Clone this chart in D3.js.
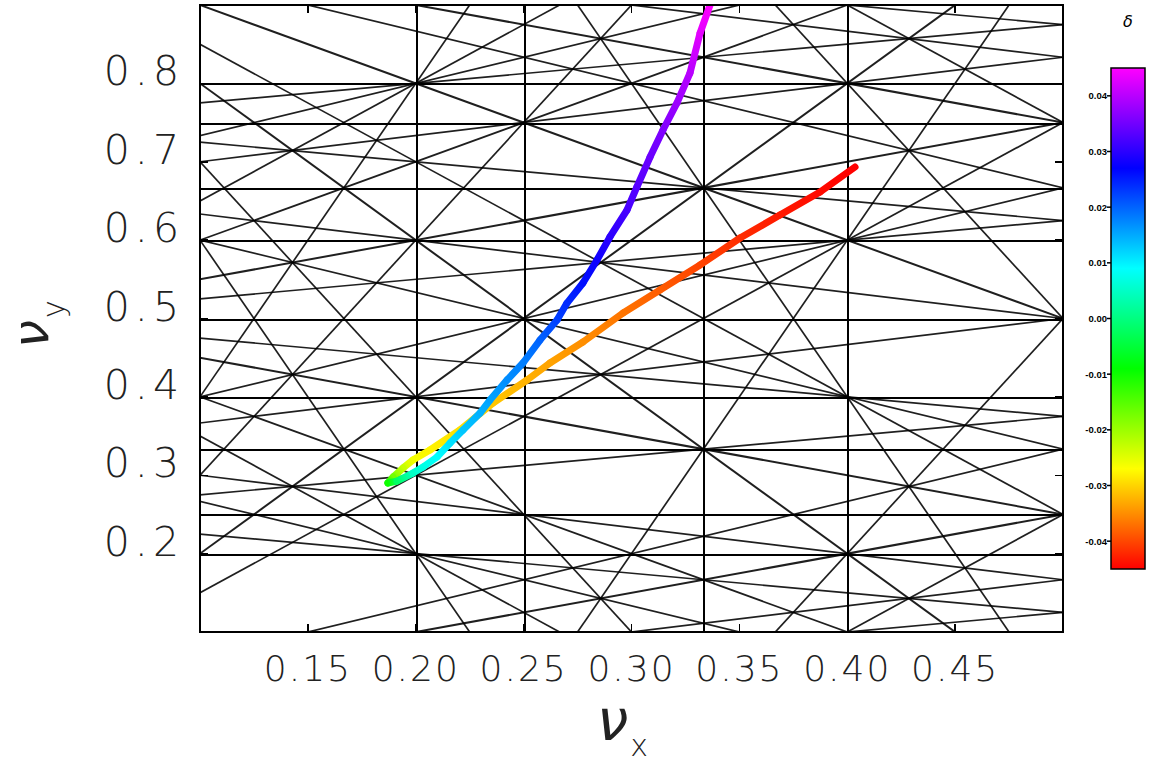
<!DOCTYPE html>
<html>
<head>
<meta charset="utf-8">
<script src="https://cdn.jsdelivr.net/npm/d3@7"></script>
<style>
  html, body { margin: 0; padding: 0; background: #fff; }
  svg { display: block; }
</style>
</head>
<body>
<svg id="chart" width="1155" height="762"></svg>
<script>
// ---- tick values and labels ----
const xTicks = [0.15, 0.20, 0.25, 0.30, 0.35, 0.40, 0.45];
const xTickLabels = ["0.15", "0.20", "0.25", "0.30", "0.35", "0.40", "0.45"];
const yTicks = [0.2, 0.3, 0.4, 0.5, 0.6, 0.7, 0.8];
const yTickLabels = ["0.2", "0.3", "0.4", "0.5", "0.6", "0.7", "0.8"];
const colorTicks = [0.04, 0.03, 0.02, 0.01, 0.00, -0.01, -0.02, -0.03, -0.04];
const colorTickLabels = ["0.04", "0.03", "0.02", "0.01", "0.00", "-0.01", "-0.02", "-0.03", "-0.04"];

// ---- tune footprint: (nu_x, nu_y) versus momentum deviation delta ----
const deltaValues = [-0.0450, -0.0443, -0.0432, -0.0418, -0.0403, -0.0385, -0.0368, -0.0350, -0.0335, -0.0325,
                     -0.0310, -0.0293, -0.0278, -0.0262, -0.0230, -0.0170, -0.0100, -0.0020, 0.0050, 0.0070,
                      0.0090, 0.0110, 0.0130, 0.0145, 0.0155, 0.0170, 0.0180, 0.0200, 0.0225, 0.0240,
                      0.0260, 0.0280, 0.0300, 0.0320, 0.0330, 0.0345, 0.0360, 0.0380, 0.0400, 0.0430, 0.0450];
const nuX = [0.4036, 0.3874, 0.3688, 0.3503, 0.3318, 0.3132, 0.2961, 0.2775, 0.2622, 0.2516,
             0.2358, 0.2205, 0.2066, 0.1987, 0.1941, 0.1895, 0.1871, 0.1913, 0.1987, 0.2034,
             0.2099, 0.2159, 0.2219, 0.2298, 0.2344, 0.2423, 0.2497, 0.2576, 0.2655, 0.2701,
             0.2775, 0.2840, 0.2900, 0.2979, 0.3025, 0.3086, 0.3146, 0.3211, 0.3271, 0.3318, 0.3364];
const nuY = [0.6933, 0.6614, 0.6320, 0.6027, 0.5683, 0.5363, 0.5070, 0.4700, 0.4432, 0.4215,
             0.3921, 0.3577, 0.3322, 0.3194, 0.3092, 0.2977, 0.2901, 0.2926, 0.3028, 0.3105,
             0.3233, 0.3411, 0.3577, 0.3794, 0.3960, 0.4215, 0.4432, 0.4725, 0.4980, 0.5197,
             0.5453, 0.5746, 0.6040, 0.6384, 0.6678, 0.7060, 0.7405, 0.7750, 0.8132, 0.8643, 0.9000];

// ---- resonance lines m*nu_x + n*nu_y = p ----
const maxResonanceOrder = 5;
const skippedResonances = [[1, -1, 0]];   // linear difference coupling line is not drawn

const xDomain = [0.1, 0.5];
const yDomain = [0.1, 0.9];
const deltaDomain = [-0.045, 0.045];

const svg = d3.select("#chart");
const plot = { left: 200, right: 1063, top: 5, bottom: 632 };

const x = d3.scaleLinear().domain(xDomain).range([plot.left, plot.right]);
const y = d3.scaleLinear().domain(yDomain).range([plot.bottom, plot.top]);

// rainbow: red (low delta) through yellow, green, cyan, blue to magenta (high delta)
const hueScale = d3.scaleLinear().domain(deltaDomain).range([0, 300]).clamp(true);
const colorOf = d => d3.hsl(hueScale(d), 1, 0.5).formatHex();

const defs = svg.append("defs");
defs.append("clipPath").attr("id", "plotClip")
  .append("rect")
  .attr("x", plot.left).attr("y", plot.top)
  .attr("width", plot.right - plot.left).attr("height", plot.bottom - plot.top);

// ---- build the resonance set ----
function gcd(a, b) { a = Math.abs(a); b = Math.abs(b); while (b) { [a, b] = [b, a % b]; } return a; }
const skipKeys = new Set(skippedResonances.map(r => r.join(",")));
const resonances = [];
const seen = new Set();
for (let m = 0; m <= maxResonanceOrder; m++) {
  for (let n = -maxResonanceOrder; n <= maxResonanceOrder; n++) {
    if (Math.abs(m) + Math.abs(n) > maxResonanceOrder) continue;
    if (m === 0 && n <= 0) continue;
    const corners = [[xDomain[0], yDomain[0]], [xDomain[0], yDomain[1]], [xDomain[1], yDomain[0]], [xDomain[1], yDomain[1]]]
      .map(([a, b]) => m * a + n * b);
    const lo = Math.ceil(Math.min(...corners) - 1e-9);
    const hi = Math.floor(Math.max(...corners) + 1e-9);
    for (let p = lo; p <= hi; p++) {
      const g = gcd(gcd(m, n), p) || gcd(m, n);
      const key = [m / g, n / g, p / g].join(",");
      if (seen.has(key) || skipKeys.has(key)) continue;
      seen.add(key);
      resonances.push({ m: m / g, n: n / g, p: p / g });
    }
  }
}

function endpoints(r) {
  if (r.n === 0) { const v = r.p / r.m; return [[v, yDomain[0] - 0.1], [v, yDomain[1] + 0.1]]; }
  if (r.m === 0) { const v = r.p / r.n; return [[xDomain[0] - 0.1, v], [xDomain[1] + 0.1, v]]; }
  const xa = xDomain[0] - 0.1, xb = xDomain[1] + 0.1;
  return [[xa, (r.p - r.m * xa) / r.n], [xb, (r.p - r.m * xb) / r.n]];
}

const lineLayer = svg.append("g").attr("clip-path", "url(#plotClip)");
const diag = resonances.filter(r => r.m !== 0 && r.n !== 0);
const straight = resonances.filter(r => r.m === 0 || r.n === 0);

lineLayer.selectAll("line.diag").data(diag).join("line")
  .attr("class", "diag")
  .attr("x1", r => x(endpoints(r)[0][0])).attr("y1", r => y(endpoints(r)[0][1]))
  .attr("x2", r => x(endpoints(r)[1][0])).attr("y2", r => y(endpoints(r)[1][1]))
  .attr("stroke", "#000")
  .attr("stroke-opacity", 0.88)
  .attr("stroke-width", r => (Math.abs(r.m) + Math.abs(r.n) <= 3 ? 2.0 : 1.7));

lineLayer.selectAll("line.straight").data(straight).join("line")
  .attr("class", "straight")
  .attr("x1", r => Math.round(x(endpoints(r)[0][0])) + 0.5).attr("y1", r => Math.round(y(endpoints(r)[0][1])) + 0.5)
  .attr("x2", r => Math.round(x(endpoints(r)[1][0])) + 0.5).attr("y2", r => Math.round(y(endpoints(r)[1][1])) + 0.5)
  .attr("stroke", "#000")
  .attr("stroke-width", 2)
  .attr("shape-rendering", "crispEdges");

// ---- tune curve coloured by delta ----
const pts = deltaValues.map((d, i) => ({ d, px: x(nuX[i]), py: y(nuY[i]) }));
const segs = d3.pairs(pts).map(([a, b], i) => ({ a, b, id: "seg" + i }));
segs.forEach(s => {
  const g = defs.append("linearGradient").attr("id", s.id)
    .attr("gradientUnits", "userSpaceOnUse")
    .attr("x1", s.a.px).attr("y1", s.a.py).attr("x2", s.b.px).attr("y2", s.b.py);
  g.append("stop").attr("offset", 0).attr("stop-color", colorOf(s.a.d));
  g.append("stop").attr("offset", 1).attr("stop-color", colorOf(s.b.d));
});
const curveLayer = svg.append("g").attr("clip-path", "url(#plotClip)");
curveLayer.selectAll("line").data(segs).join("line")
  .attr("x1", s => s.a.px).attr("y1", s => s.a.py)
  .attr("x2", s => s.b.px).attr("y2", s => s.b.py)
  .attr("stroke", s => `url(#${s.id})`)
  .attr("stroke-width", 7)
  .attr("stroke-linecap", "round");

// ---- frame and ticks ----
svg.append("rect")
  .attr("x", plot.left).attr("y", plot.top)
  .attr("width", plot.right - plot.left).attr("height", plot.bottom - plot.top)
  .attr("fill", "none").attr("stroke", "#000").attr("stroke-width", 2)
  .attr("shape-rendering", "crispEdges");

const tickLen = 8;
const tickG = svg.append("g").attr("stroke", "#000").attr("stroke-width", 1.5).attr("shape-rendering", "crispEdges");
xTicks.forEach(v => {
  tickG.append("line").attr("x1", x(v)).attr("x2", x(v)).attr("y1", plot.bottom).attr("y2", plot.bottom - tickLen);
  tickG.append("line").attr("x1", x(v)).attr("x2", x(v)).attr("y1", plot.top).attr("y2", plot.top + tickLen);
});
yTicks.forEach(v => {
  tickG.append("line").attr("y1", y(v)).attr("y2", y(v)).attr("x1", plot.left).attr("x2", plot.left + tickLen);
  tickG.append("line").attr("y1", y(v)).attr("y2", y(v)).attr("x1", plot.right).attr("x2", plot.right - tickLen);
});

// ---- tick labels ----
const labelFont = "'DejaVu Sans', 'Liberation Sans', sans-serif";
svg.append("g").selectAll("text").data(xTicks).join("text")
  .attr("x", v => x(v)).attr("y", 681)
  .attr("text-anchor", "middle")
  .attr("font-family", labelFont).attr("font-weight", 200)
  .attr("font-size", 36).attr("letter-spacing", 2)
  .attr("fill", "#222")
  .text((v, i) => xTickLabels[i]);

svg.append("g").selectAll("text").data(yTicks).join("text")
  .attr("x", 184).attr("y", v => y(v) + 2)
  .attr("text-anchor", "end")
  .attr("font-family", labelFont).attr("font-weight", 200)
  .attr("font-size", 41).attr("letter-spacing", 5)
  .attr("fill", "#222")
  .text((v, i) => yTickLabels[i]);

// ---- axis titles ----
const xt = svg.append("text").attr("x", 597).attr("y", 740)
  .attr("font-family", labelFont).attr("font-style", "italic").attr("font-weight", 200)
  .attr("font-size", 56).attr("fill", "#222");
xt.append("tspan").text("ν");
xt.append("tspan").attr("dx", 2).attr("dy", 16).attr("font-size", 30)
  .attr("font-style", "normal").text("x");

const yt = svg.append("text").attr("transform", "translate(48,348) rotate(-90)")
  .attr("font-family", labelFont).attr("font-style", "italic").attr("font-weight", 200)
  .attr("font-size", 50).attr("fill", "#222");
yt.append("tspan").text("ν");
yt.append("tspan").attr("dx", 2).attr("dy", 16).attr("font-size", 30)
  .attr("font-style", "normal").text("y");

// ---- colour bar ----
const bar = { left: 1111, right: 1145, top: 68, bottom: 569 };
const c = d3.scaleLinear().domain(deltaDomain).range([bar.bottom, bar.top]);
const grad = defs.append("linearGradient").attr("id", "barGrad")
  .attr("x1", 0).attr("y1", 1).attr("x2", 0).attr("y2", 0);
d3.range(0, 1.0001, 0.05).forEach(t => {
  const d = deltaDomain[0] + t * (deltaDomain[1] - deltaDomain[0]);
  grad.append("stop").attr("offset", t).attr("stop-color", colorOf(d));
});
svg.append("rect")
  .attr("x", bar.left).attr("y", bar.top)
  .attr("width", bar.right - bar.left).attr("height", bar.bottom - bar.top)
  .attr("fill", "url(#barGrad)").attr("stroke", "#000").attr("stroke-width", 1.5);

const cb = svg.append("g");
cb.selectAll("line").data(colorTicks).join("line")
  .attr("x1", bar.left - 4).attr("x2", bar.left)
  .attr("y1", v => c(v)).attr("y2", v => c(v))
  .attr("stroke", "#000").attr("stroke-width", 1.5);
cb.selectAll("text").data(colorTicks).join("text")
  .attr("x", bar.left - 4).attr("y", v => c(v) + 3.5)
  .attr("text-anchor", "end")
  .attr("font-family", "'Liberation Sans', Arial, sans-serif").attr("font-weight", "bold")
  .attr("font-size", 9.5)
  .text((v, i) => colorTickLabels[i]);

svg.append("text").attr("x", 1128).attr("y", 27)
  .attr("text-anchor", "middle")
  .attr("font-family", "'DejaVu Sans', sans-serif").attr("font-style", "italic")
  .attr("font-size", 16)
  .text("δ");
</script>
</body>
</html>
